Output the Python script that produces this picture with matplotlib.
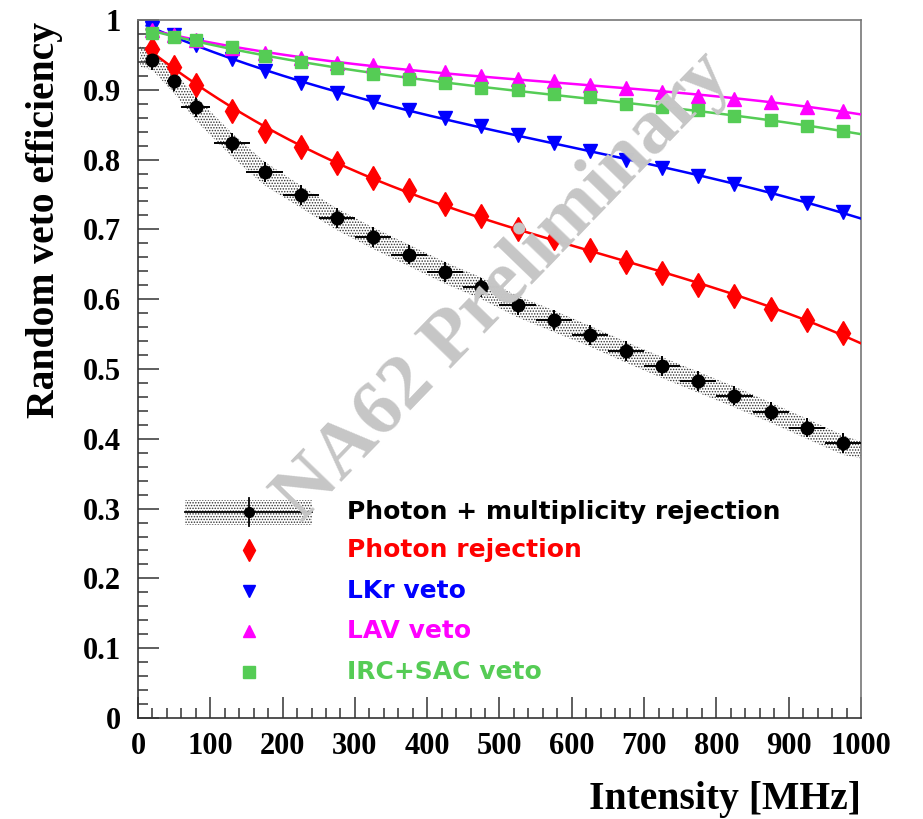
import numpy as np
import matplotlib.pyplot as plt
from matplotlib.ticker import MultipleLocator, FormatStrFormatter

# intensity bins [MHz]
intensity = [20, 50, 80, 130, 175, 225, 275, 325, 375, 425, 475,
             525, 575, 625, 675, 725, 775, 825, 875, 925, 975]
intensity_err = [6, 10, 20, 25, 25, 25, 25, 25, 25, 25, 25,
                 25, 25, 25, 25, 25, 25, 25, 25, 25, 25]

# random veto efficiencies
eff_total = [0.943, 0.912, 0.875, 0.824, 0.782, 0.749, 0.716, 0.689, 0.664, 0.639, 0.617,
             0.591, 0.570, 0.549, 0.526, 0.504, 0.483, 0.462, 0.439, 0.416, 0.394]
eff_total_err = [0.014] * 21
eff_photon = [0.958, 0.933, 0.907, 0.870, 0.841, 0.818, 0.795, 0.773, 0.756, 0.737, 0.719,
              0.701, 0.687, 0.670, 0.653, 0.637, 0.620, 0.605, 0.586, 0.570, 0.552]
eff_lkr = [0.988, 0.978, 0.964, 0.944, 0.927, 0.910, 0.896, 0.883, 0.871, 0.859, 0.848,
           0.835, 0.824, 0.813, 0.800, 0.788, 0.776, 0.765, 0.752, 0.738, 0.725]
eff_lav = [0.986, 0.979, 0.972, 0.960, 0.953, 0.945, 0.939, 0.935, 0.929, 0.925, 0.920,
           0.915, 0.912, 0.907, 0.902, 0.897, 0.891, 0.887, 0.882, 0.876, 0.870]
eff_irc = [0.982, 0.976, 0.971, 0.962, 0.949, 0.940, 0.931, 0.923, 0.916, 0.910, 0.903,
           0.899, 0.894, 0.889, 0.880, 0.875, 0.871, 0.862, 0.857, 0.848, 0.841]

# systematic band around the combined efficiency
band_x = [3, 20, 50, 80, 130, 175, 225, 275, 325, 375, 425, 475,
          525, 575, 625, 675, 725, 775, 825, 875, 925, 975, 1000]
band_hi = [0.962, 0.957, 0.926, 0.890, 0.838, 0.797, 0.763, 0.730, 0.703, 0.678, 0.653, 0.631,
           0.605, 0.584, 0.562, 0.539, 0.517, 0.496, 0.475, 0.452, 0.429, 0.405, 0.396]
band_lo = [0.933, 0.928, 0.895, 0.856, 0.804, 0.763, 0.731, 0.699, 0.672, 0.647, 0.622, 0.600,
           0.574, 0.553, 0.532, 0.509, 0.487, 0.466, 0.445, 0.423, 0.400, 0.377, 0.372]

labels = ["Photon + multiplicity rejection", "Photon rejection", "LKr veto",
          "LAV veto", "IRC+SAC veto"]
colors = ["black", "#ff0000", "#0000ff", "#ff00ff", "#55cc55"]

serif = "Liberation Serif"
sans = "DejaVu Sans"
plt.rcParams['hatch.linewidth'] = 0.7

fig = plt.figure(figsize=(9.23, 8.19), dpi=100)
ax = fig.add_axes([0.1495, 0.1233, 0.7833, 0.8523])

x = np.array(intensity)
xf = np.linspace(12, 1000, 300)

# band + black points
ax.fill_between(band_x, band_lo, band_hi, facecolor='white', edgecolor='#333333',
                hatch='......', linewidth=0, zorder=1)
ax.errorbar(x, eff_total, xerr=intensity_err, yerr=eff_total_err, fmt='o', color='black',
            ms=9, elinewidth=1.4, capsize=0, zorder=4)

# coloured series with a smooth fit
series = [(eff_photon, 'd', 12), (eff_lkr, 'v', 10), (eff_lav, '^', 10), (eff_irc, 's', 9)]
for (vals, mk, ms), c in zip(series, colors[1:]):
    p = np.polyfit(x, vals, 3)
    ax.plot(xf, np.polyval(p, xf), color=c, lw=1.8, zorder=3)
    ax.plot(x, vals, mk, color=c, ms=ms, zorder=4)

ax.set_xlim(0, 1000)
ax.set_ylim(0, 1)
ax.xaxis.set_major_locator(MultipleLocator(100))
ax.xaxis.set_minor_locator(MultipleLocator(20))
ax.yaxis.set_major_locator(MultipleLocator(0.1))
ax.yaxis.set_minor_locator(MultipleLocator(0.02))
ax.yaxis.set_major_formatter(FormatStrFormatter('%g'))
ax.tick_params(which='both', direction='in', top=False, right=False, width=1.1, color='#333333')
ax.tick_params(which='major', length=15, labelsize=22)
ax.tick_params(which='minor', length=7.5)
ax.tick_params(axis='x', pad=10)
ax.tick_params(axis='y', pad=12)
for lab in ax.get_xticklabels() + ax.get_yticklabels():
    lab.set_fontfamily(serif)
    lab.set_fontweight('bold')
for s in ['left', 'bottom']:
    ax.spines[s].set_color('#333333')
    ax.spines[s].set_linewidth(1.2)
for s in ['top', 'right']:
    ax.spines[s].set_color('#777777')
    ax.spines[s].set_linewidth(1.2)

ax.text(1.0, -0.117, "Intensity [MHz]", transform=ax.transAxes, ha='right', va='center',
        fontsize=28.5, fontfamily=serif, fontweight='bold')
ax.text(-0.129, 0.997, "Random veto efficiency", transform=ax.transAxes, rotation=90,
        ha='center', va='top', fontsize=28.5, fontfamily=serif, fontweight='bold')

# legend drawn by hand
ax.fill_between([0.065, 0.241], [0.277, 0.277], [0.312, 0.312], transform=ax.transAxes,
                facecolor='white', edgecolor='#333333', hatch='......', linewidth=0, zorder=5)
ax.plot([0.065, 0.241], [0.295, 0.295], color='black', lw=1.3, transform=ax.transAxes, zorder=6)
ax.plot([0.1535, 0.1535], [0.275, 0.315], color='black', lw=1.3, transform=ax.transAxes, zorder=6)
ax.plot([0.1535], [0.295], 'o', color='black', ms=7, transform=ax.transAxes, zorder=6)
leg_y = [0.295, 0.2407, 0.182, 0.1246, 0.0659]
leg_mk = [None, ('d', 11), ('v', 9), ('^', 8), ('s', 8)]
for yy, lab, c, m in zip(leg_y, labels, colors, leg_mk):
    if m is not None:
        ax.plot([0.1535], [yy], m[0], color=c, ms=m[1], transform=ax.transAxes, zorder=6)
    ax.text(0.289, yy, lab, color=c, transform=ax.transAxes, ha='left', va='center',
            fontsize=18, fontfamily=sans, fontweight='bold', zorder=6)

# watermark
ax.text(0.506, 0.617, "NA62 Preliminary", transform=ax.transAxes, rotation=46,
        ha='center', va='center', fontsize=57, fontfamily=serif, fontweight='bold',
        color='#c6c6c6', zorder=10)

fig.savefig("out.png", dpi=100)
